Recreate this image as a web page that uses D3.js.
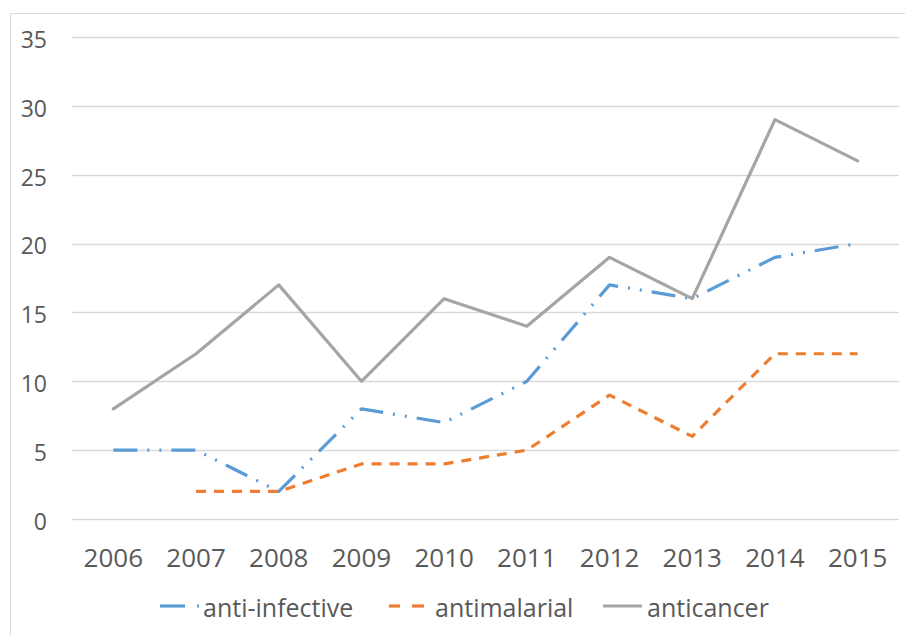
<!DOCTYPE html>
<html><head><meta charset="utf-8">
<script src="https://cdn.jsdelivr.net/npm/d3@7"></script>
<style>body{margin:0;background:#fff;} svg{display:block;}</style>
</head><body>
<svg id="c" width="905" height="635"></svg>
<script>
const years = ["2006","2007","2008","2009","2010","2011","2012","2013","2014","2015"];
const antiInfective = [5,5,2,8,7,10,17,16,19,20];
const antimalarial = [null,2,2,4,4,5,9,6,12,12];
const anticancer = [8,12,17,10,16,14,19,16,29,26];
const yTicks = [0,5,10,15,20,25,30,35];
const seriesNames = ["anti-infective","antimalarial","anticancer"];

const svg = d3.select("#c");
const font = "'Open Sans', sans-serif";
const txt = "#595959";

svg.append("rect").attr("x",10.5).attr("y",13.5).attr("width",905).attr("height",640)
  .attr("fill","none").attr("stroke","#d9d9d9").attr("stroke-width",1);

const x = d3.scaleBand().domain(years).range([72,899]);
const y = d3.scaleLinear().domain([0,35]).range([519,37]);

// gridlines
svg.append("g").selectAll("line").data(yTicks).join("line")
  .attr("x1",72).attr("x2",899)
  .attr("y1",d=>Math.round(y(d))+0.5).attr("y2",d=>Math.round(y(d))+0.5)
  .attr("stroke","#d9d9d9").attr("stroke-width",1.3);

// y labels
const yAxis = d3.axisLeft(y).tickValues(yTicks).tickSize(0).tickPadding(0);
const gy = svg.append("g").attr("transform","translate(47,3)").call(yAxis);
gy.select(".domain").remove();
gy.selectAll("text").attr("font-family",font).attr("font-size",23).attr("fill",txt);

// x labels
const xAxis = d3.axisBottom(x).tickSize(0).tickPadding(0);
const gx = svg.append("g").attr("transform","translate(0,567)").call(xAxis);
gx.select(".domain").remove();
gx.selectAll("text").attr("font-family",font).attr("font-size",26).attr("fill",txt).attr("dy","0");

const styles = [
  {color:"#5b9bd5", dash:"24,10,2,10,2,10"},
  {color:"#ed7d31", dash:"10,8"},
  {color:"#a5a5a5", dash:null}
];
const data = [antiInfective, antimalarial, anticancer];

const line = d3.line().defined(d=>d.v!=null).x(d=>x(d.k)+x.bandwidth()/2).y(d=>y(d.v));

data.forEach((arr,i)=>{
  const pts = years.map((k,j)=>({k, v:arr[j]}));
  const p = svg.append("path").datum(pts).attr("d",line)
    .attr("fill","none").attr("stroke",styles[i].color).attr("stroke-width",3.2)
    .attr("stroke-linejoin","round").attr("stroke-linecap","round");
  if(styles[i].dash) p.attr("stroke-dasharray",styles[i].dash).attr("stroke-linecap","butt");
});

// legend
const legY = 606;
const sw = 3.2;
const lg = svg.append("g");
// anti-infective sample: long dash + dot
lg.append("line").attr("x1",160).attr("x2",185).attr("y1",legY).attr("y2",legY).attr("stroke",styles[0].color).attr("stroke-width",sw);
lg.append("line").attr("x1",197).attr("x2",199).attr("y1",legY).attr("y2",legY).attr("stroke",styles[0].color).attr("stroke-width",sw);
// antimalarial sample: two dashes
lg.append("line").attr("x1",389).attr("x2",400).attr("y1",legY).attr("y2",legY).attr("stroke",styles[1].color).attr("stroke-width",sw);
lg.append("line").attr("x1",412).attr("x2",424).attr("y1",legY).attr("y2",legY).attr("stroke",styles[1].color).attr("stroke-width",sw);
// anticancer sample: solid
lg.append("line").attr("x1",603).attr("x2",642).attr("y1",legY).attr("y2",legY).attr("stroke",styles[2].color).attr("stroke-width",sw);

const legTextX = [203,435,647];
seriesNames.forEach((n,i)=>{
  lg.append("text").attr("x",legTextX[i]).attr("y",617)
    .attr("font-family",font).attr("font-size",25).attr("fill",txt).text(n);
});
</script>
</body></html>
